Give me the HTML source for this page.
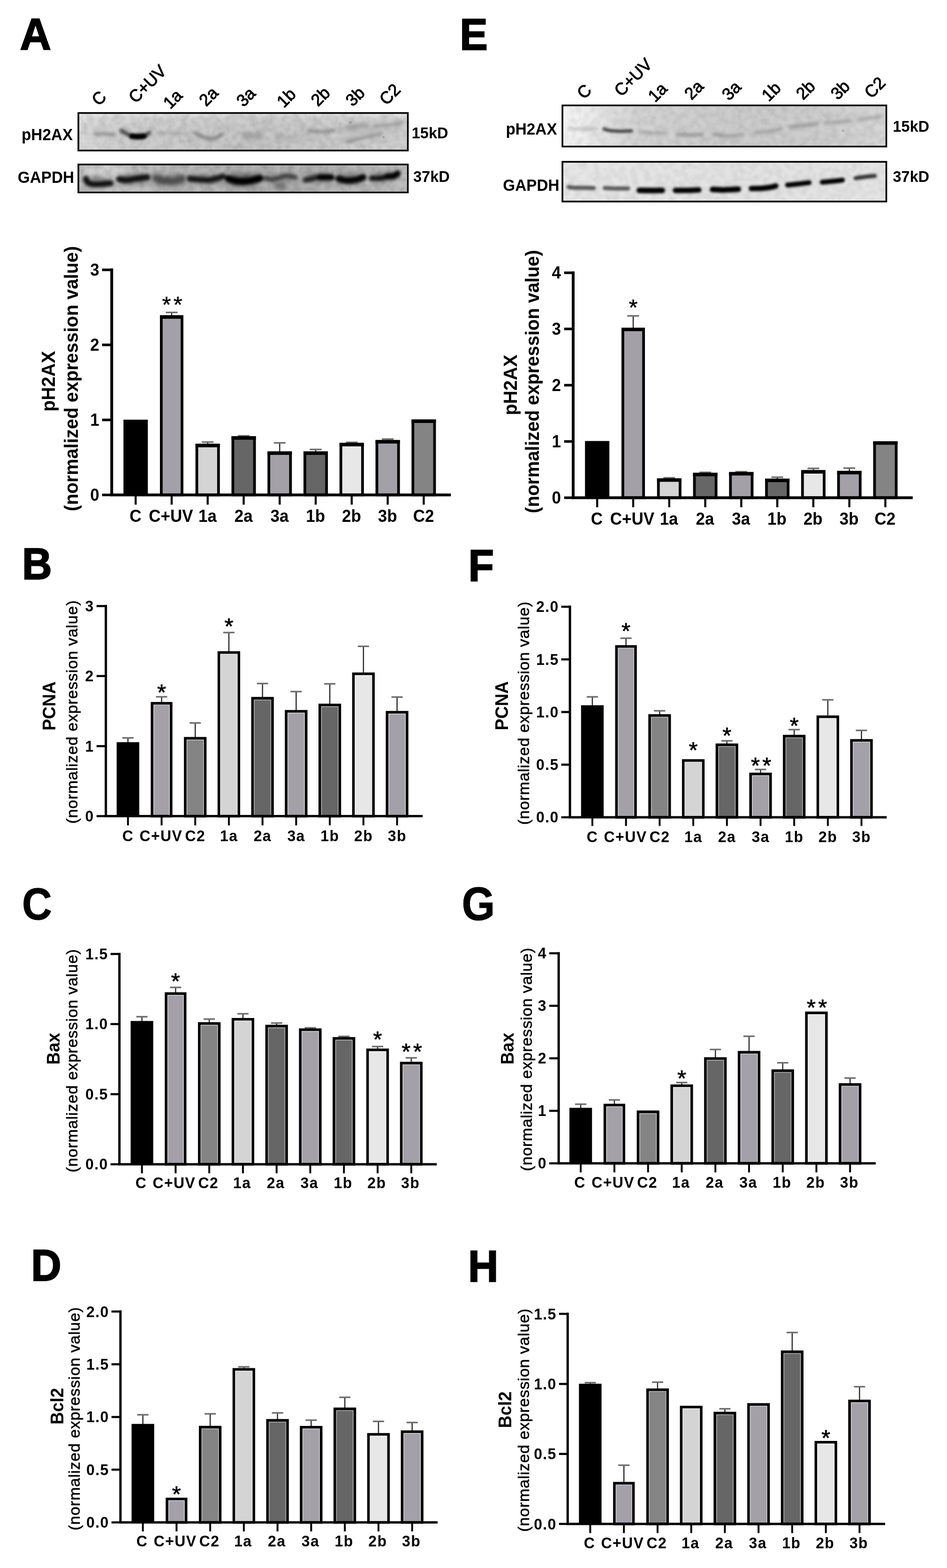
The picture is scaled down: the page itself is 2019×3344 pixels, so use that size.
<!DOCTYPE html>
<html lang="en"><head><meta charset="utf-8"><title>Figure: pH2AX, PCNA, Bax and Bcl2 expression</title>
<style>html,body{margin:0;padding:0;background:#fff}body{width:2019px;height:3344px;overflow:hidden}svg{display:block;filter:blur(0.5px)}text{font-family:'Liberation Sans', sans-serif;font-weight:bold;text-anchor:middle;fill:#000}.n{font-weight:normal}.e{text-anchor:end}.s{text-anchor:start}</style>
</head><body>
<svg width="2019" height="3344" viewBox="0 0 2019 3344" role="img" aria-label="Western blots and bar charts of pH2AX, PCNA, Bax and Bcl2 expression">
<rect width="2019" height="3344" fill="#fff"/>
<defs>
<filter id="bl1_2" filterUnits="userSpaceOnUse" x="100" y="200" width="1850" height="260" color-interpolation-filters="sRGB"><feGaussianBlur stdDeviation="1.2"/></filter>
<filter id="bl1_8" filterUnits="userSpaceOnUse" x="100" y="200" width="1850" height="260" color-interpolation-filters="sRGB"><feGaussianBlur stdDeviation="1.8"/></filter>
<filter id="bl2" filterUnits="userSpaceOnUse" x="100" y="200" width="1850" height="260" color-interpolation-filters="sRGB"><feGaussianBlur stdDeviation="2"/></filter>
<filter id="bl2_5" filterUnits="userSpaceOnUse" x="100" y="200" width="1850" height="260" color-interpolation-filters="sRGB"><feGaussianBlur stdDeviation="2.5"/></filter>
<filter id="bl3" filterUnits="userSpaceOnUse" x="100" y="200" width="1850" height="260" color-interpolation-filters="sRGB"><feGaussianBlur stdDeviation="3"/></filter>
<filter id="bl4" filterUnits="userSpaceOnUse" x="100" y="200" width="1850" height="260" color-interpolation-filters="sRGB"><feGaussianBlur stdDeviation="4"/></filter>
<filter id="bl5" filterUnits="userSpaceOnUse" x="100" y="200" width="1850" height="260" color-interpolation-filters="sRGB"><feGaussianBlur stdDeviation="5"/></filter>
<filter id="bl8" filterUnits="userSpaceOnUse" x="100" y="200" width="1850" height="260" color-interpolation-filters="sRGB"><feGaussianBlur stdDeviation="8"/></filter>
<filter id="bl14" filterUnits="userSpaceOnUse" x="100" y="200" width="1850" height="260" color-interpolation-filters="sRGB"><feGaussianBlur stdDeviation="14"/></filter>
<linearGradient id="gA1" x1="0" x2="1" y1="0" y2="0"><stop offset="0" stop-color="#dadada"/><stop offset="0.06" stop-color="#d0d0d0"/><stop offset="0.3" stop-color="#cacaca"/><stop offset="0.55" stop-color="#c4c4c4"/><stop offset="0.8" stop-color="#c9c9c9"/><stop offset="1" stop-color="#d0d0d0"/></linearGradient>
<linearGradient id="gA2" x1="0" x2="1" y1="0" y2="0"><stop offset="0" stop-color="#b9b9b9"/><stop offset="0.1" stop-color="#c0c0c0"/><stop offset="0.3" stop-color="#b4b4b4"/><stop offset="0.6" stop-color="#adadad"/><stop offset="0.85" stop-color="#b2b2b2"/><stop offset="1" stop-color="#bcbcbc"/></linearGradient>
<linearGradient id="gE1" x1="0" x2="1" y1="0" y2="0"><stop offset="0" stop-color="#f6f6f6"/><stop offset="0.06" stop-color="#eeeeee"/><stop offset="0.14" stop-color="#e0e0e0"/><stop offset="0.23" stop-color="#d2d2d2"/><stop offset="0.5" stop-color="#cbcbcb"/><stop offset="0.8" stop-color="#cccccc"/><stop offset="1" stop-color="#d5d5d5"/></linearGradient>
<linearGradient id="gE2" x1="0" x2="1" y1="0" y2="0"><stop offset="0" stop-color="#e6e6e6"/><stop offset="0.5" stop-color="#e2e2e2"/><stop offset="1" stop-color="#e4e4e4"/></linearGradient>
<linearGradient id="gTop" x1="0" x2="0" y1="0" y2="1"><stop offset="0" stop-color="#fff" stop-opacity="0.45"/><stop offset="0.12" stop-color="#fff" stop-opacity="0.12"/><stop offset="0.4" stop-color="#fff" stop-opacity="0"/><stop offset="1" stop-color="#fff" stop-opacity="0"/></linearGradient>
<filter id="nz" filterUnits="userSpaceOnUse" x="100" y="200" width="1850" height="260" color-interpolation-filters="sRGB"><feTurbulence type="fractalNoise" baseFrequency="0.075" numOctaves="2" seed="11"/><feColorMatrix type="matrix" values="0 0 0 0 0  0 0 0 0 0  0 0 0 0 0  0 0 0 2.2 -0.75"/><feGaussianBlur stdDeviation="1.2"/></filter>
<filter id="nw" filterUnits="userSpaceOnUse" x="100" y="200" width="1850" height="260" color-interpolation-filters="sRGB"><feTurbulence type="fractalNoise" baseFrequency="0.06" numOctaves="2" seed="29"/><feColorMatrix type="matrix" values="0 0 0 0 1  0 0 0 0 1  0 0 0 0 1  0 0 0 2.2 -0.75"/><feGaussianBlur stdDeviation="1.2"/></filter>
</defs>
<clipPath id="cpA1"><rect x="168.9" y="242.8" width="698.8" height="76.4"/></clipPath>
<g clip-path="url(#cpA1)">
<rect x="168.9" y="242.8" width="698.8" height="76.4" fill="url(#gA1)"/>
<rect x="168.9" y="242.8" width="698.8" height="76.4" fill="url(#gTop)"/>
<rect x="168.9" y="242.8" width="698.8" height="76.4" filter="url(#nz)" opacity="0.1"/>
<rect x="168.9" y="242.8" width="698.8" height="76.4" filter="url(#nw)" opacity="0.1"/>
<g fill="none" stroke-linecap="round" stroke-linejoin="round" filter="url(#bl3)">
<path d="M204 286C207.33 285.92 217.5 285.33 224 285.5C230.5 285.67 239.83 286.75 243 287" stroke="#868686" stroke-width="7" opacity="0.75"/>
<path d="M259 279C260.5 279.83 264.5 282.17 268 284C271.5 285.83 275.67 288.67 280 290C284.33 291.33 289.33 292 294 292C298.67 292 304 291.5 308 290C312 288.5 316.33 284.17 318 283" stroke="#1c1c1c" stroke-width="8" opacity="0.8"/>
<path d="M338 283C342.5 283.17 355 283.33 365 284C375 284.67 392.5 286.5 398 287" stroke="#989898" stroke-width="6" opacity="0.6"/>
<path d="M415 283C417.17 284.17 423 288 428 290C433 292 439.67 294.33 445 295C450.33 295.67 455.17 295.5 460 294C464.83 292.5 471.67 287.33 474 286" stroke="#767676" stroke-width="7" opacity="0.8"/>
<path d="M658 279C662.5 279.33 675.83 281.17 685 281C694.17 280.83 708.33 278.5 713 278" stroke="#848484" stroke-width="7" opacity="0.8"/>
<path d="M742 302C745.83 301 757 298 765 296C773 294 782.17 291.83 790 290C797.83 288.17 808.33 285.83 812 285" stroke="#848484" stroke-width="7" opacity="0.8"/>
<path d="M797 270C801.67 269.5 817 267.83 825 267C833 266.17 839.67 265.83 845 265C850.33 264.17 855 262.5 857 262" stroke="#828282" stroke-width="6" opacity="0.8"/>
</g>
<g fill="none" stroke-linecap="round" stroke-linejoin="round" filter="url(#bl2_5)">
<path d="M281 290.3C283.17 290.45 289.67 291.2 294 291.2C298.33 291.2 304.83 290.45 307 290.3" stroke="#000" stroke-width="11" opacity="1"/>
</g>
<g fill="none" stroke-linecap="round" stroke-linejoin="round" filter="url(#bl5)">
<path d="M522 290C525 290.17 534.33 291.17 540 291C545.67 290.83 553.33 289.33 556 289" stroke="#969696" stroke-width="14" opacity="0.7"/>
</g>
<g fill="none" stroke-linecap="round" stroke-linejoin="round" filter="url(#bl4)">
<path d="M590 292C593.67 292.5 605.33 294.83 612 295C618.67 295.17 627 293.33 630 293" stroke="#a0a0a0" stroke-width="8" opacity="0.6"/>
<path d="M740 273C743.33 272.5 753 270.83 760 270C767 269.17 778.33 268.33 782 268" stroke="#808080" stroke-width="8" opacity="0.8"/>
</g>
<g fill="none" stroke-linecap="round" stroke-linejoin="round" filter="url(#bl8)">
<path d="M745 285C752.5 283.83 774.17 280.17 790 278C805.83 275.83 831.67 273 840 272" stroke="#b4b4b4" stroke-width="26" opacity="0.5"/>
</g>
<g fill="none" stroke-linecap="round" stroke-linejoin="round" filter="url(#bl1_2)">
<path d="M746.5 261.5L748 261.8" stroke="#555" stroke-width="2.5" opacity="0.8"/>
<path d="M817.6 292.5L818.2 292.6" stroke="#333" stroke-width="2.2" opacity="0.9"/>
</g>
</g>
<rect x="167.1" y="241" width="702.4" height="80" fill="none" stroke="#000" stroke-width="3.6"/>
<clipPath id="cpA2"><rect x="168.9" y="352.6" width="698.8" height="56"/></clipPath>
<g clip-path="url(#cpA2)">
<rect x="168.9" y="352.6" width="698.8" height="56" fill="url(#gA2)"/>
<ellipse cx="225" cy="362" rx="50" ry="10" fill="#dcdcdc" opacity="0.8" filter="url(#bl8)"/>
<ellipse cx="600" cy="400" rx="40" ry="8" fill="#a0a0a0" opacity="0.5" filter="url(#bl8)"/>
<ellipse cx="520" cy="384" rx="36" ry="16" fill="#808080" opacity="0.7" filter="url(#bl8)"/>
<ellipse cx="360" cy="384" rx="34" ry="16" fill="#8a8a8a" opacity="0.6" filter="url(#bl8)"/>
<ellipse cx="700" cy="358" rx="40" ry="6" fill="#9c9c9c" opacity="0.6" filter="url(#bl8)"/>
<ellipse cx="243" cy="385" rx="4" ry="30" fill="#c8c8c8" opacity="0.6" filter="url(#bl5)"/>
<ellipse cx="714" cy="385" rx="4" ry="30" fill="#c4c4c4" opacity="0.5" filter="url(#bl5)"/>
<ellipse cx="782" cy="385" rx="4" ry="30" fill="#c6c6c6" opacity="0.5" filter="url(#bl5)"/>
<ellipse cx="858" cy="385" rx="6" ry="30" fill="#c2c2c2" opacity="0.6" filter="url(#bl5)"/>
<ellipse cx="210" cy="389" rx="30" ry="12" fill="#6a6a6a" opacity="0.55" filter="url(#bl5)"/>
<ellipse cx="285" cy="382" rx="32" ry="12" fill="#6a6a6a" opacity="0.55" filter="url(#bl5)"/>
<ellipse cx="440" cy="382" rx="38" ry="12" fill="#6a6a6a" opacity="0.55" filter="url(#bl5)"/>
<ellipse cx="520" cy="384" rx="36" ry="13" fill="#555" opacity="0.6" filter="url(#bl5)"/>
<ellipse cx="598" cy="380" rx="34" ry="12" fill="#777" opacity="0.5" filter="url(#bl5)"/>
<ellipse cx="680" cy="380" rx="30" ry="12" fill="#6a6a6a" opacity="0.55" filter="url(#bl5)"/>
<ellipse cx="748" cy="382" rx="28" ry="12" fill="#606060" opacity="0.55" filter="url(#bl5)"/>
<ellipse cx="820" cy="377" rx="30" ry="12" fill="#6a6a6a" opacity="0.55" filter="url(#bl5)"/>
<rect x="168.9" y="352.6" width="698.8" height="56" filter="url(#nz)" opacity="0.12"/>
<rect x="168.9" y="352.6" width="698.8" height="56" filter="url(#nw)" opacity="0.12"/>
<g fill="none" stroke-linecap="round" stroke-linejoin="round" filter="url(#bl3)">
<path d="M183 381C183.67 382.33 184.17 387 187 389C189.83 391 194.5 392.5 200 393C205.5 393.5 214 392.33 220 392C226 391.67 233.33 391.17 236 391" stroke="#0a0a0a" stroke-width="12" opacity="0.95"/>
<path d="M254 382C256.67 382.33 264 384.17 270 384C276 383.83 282.67 382 290 381C297.33 380 310 378.5 314 378" stroke="#0a0a0a" stroke-width="13" opacity="0.95"/>
<path d="M404 381C407.5 381.33 418.17 382.5 425 383C431.83 383.5 438.67 384.5 445 384C451.33 383.5 457.83 381.33 463 380C468.17 378.67 473.83 376.67 476 376" stroke="#0e0e0e" stroke-width="12" opacity="0.95"/>
<path d="M487 381C490 381.83 497.83 385.17 505 386C512.17 386.83 521.83 387 530 386C538.17 385 550 381 554 380" stroke="#000" stroke-width="15" opacity="1"/>
<path d="M566 380C568.33 380.5 575.67 383 580 383C584.33 383 587 381.33 592 380C597 378.67 603.67 375.33 610 375C616.33 374.67 626.67 377.5 630 378" stroke="#303030" stroke-width="10" opacity="0.8"/>
<path d="M651 384C653.33 383.5 660.17 382 665 381C669.83 380 674.17 378.5 680 378C685.83 377.5 695.33 377.83 700 378C704.67 378.17 706.67 378.83 708 379" stroke="#181818" stroke-width="11" opacity="0.9"/>
<path d="M682 378L706 378" stroke="#000" stroke-width="13" opacity="1"/>
<path d="M722 381C725 381.67 733.67 384.67 740 385C746.33 385.33 754.33 384.17 760 383C765.67 381.83 771.67 378.83 774 378" stroke="#040404" stroke-width="14" opacity="1"/>
<path d="M792 380C795 380 804.5 380.5 810 380C815.5 379.5 820 377.83 825 377C830 376.17 836.17 376.33 840 375C843.83 373.67 846.67 370 848 369" stroke="#0a0a0a" stroke-width="11" opacity="0.95"/>
<path d="M826 376C828.33 375.83 836.33 376 840 375C843.67 374 846.67 370.83 848 370" stroke="#000" stroke-width="13" opacity="1"/>
</g>
<g fill="none" stroke-linecap="round" stroke-linejoin="round" filter="url(#bl4)">
<path d="M332 380C335 380.83 343.67 384 350 385C356.33 386 363.67 386.67 370 386C376.33 385.33 385 381.83 388 381" stroke="#383838" stroke-width="17" opacity="0.8"/>
<path d="M592 396L602 398" stroke="#555" stroke-width="14" opacity="0.6"/>
</g>
</g>
<rect x="167.1" y="350.8" width="702.4" height="59.6" fill="none" stroke="#000" stroke-width="3.6"/>
<clipPath id="cpE1"><rect x="1200.9" y="226.6" width="686.9" height="84.1"/></clipPath>
<g clip-path="url(#cpE1)">
<rect x="1200.9" y="226.6" width="686.9" height="84.1" fill="url(#gE1)"/>
<rect x="1200.9" y="226.6" width="686.9" height="84.1" filter="url(#nz)" opacity="0.07"/>
<rect x="1200.9" y="226.6" width="686.9" height="84.1" filter="url(#nw)" opacity="0.07"/>
<g fill="none" stroke-linecap="round" stroke-linejoin="round" filter="url(#bl3)">
<path d="M1214 274C1219.17 274.25 1235.33 275.42 1245 275.5C1254.67 275.58 1267.5 274.67 1272 274.5" stroke="#a0a0a0" stroke-width="6" opacity="0.6"/>
<path d="M1364 281C1368.33 281.33 1381.17 282.5 1390 283C1398.83 283.5 1412.5 283.83 1417 284" stroke="#8c8c8c" stroke-width="6" opacity="0.62"/>
<path d="M1444 286C1448.33 286.33 1461.17 287.83 1470 288C1478.83 288.17 1492.5 287.17 1497 287" stroke="#7c7c7c" stroke-width="7" opacity="0.62"/>
<path d="M1521 286C1525.83 286.67 1539.67 289.83 1550 290C1560.33 290.17 1577.5 287.5 1583 287" stroke="#848484" stroke-width="7" opacity="0.62"/>
<path d="M1610 283C1615 282.5 1630.67 281.5 1640 280C1649.33 278.5 1661.67 275 1666 274" stroke="#848484" stroke-width="6" opacity="0.62"/>
<path d="M1685 270C1690 269.58 1705.67 268.5 1715 267.5C1724.33 266.5 1736.67 264.58 1741 264" stroke="#7c7c7c" stroke-width="6.5" opacity="0.62"/>
<path d="M1758 262C1763.33 261.67 1780.83 260.67 1790 260C1799.17 259.33 1809.17 258.33 1813 258" stroke="#848484" stroke-width="6" opacity="0.62"/>
<path d="M1830 255C1834.17 254.5 1847.33 253 1855 252C1862.67 251 1872.5 249.5 1876 249" stroke="#8c8c8c" stroke-width="6.5" opacity="0.6"/>
</g>
<g fill="none" stroke-linecap="round" stroke-linejoin="round" filter="url(#bl2_5)">
<path d="M1288 275C1290 275.58 1293.83 277.67 1300 278.5C1306.17 279.33 1317.33 279.92 1325 280C1332.67 280.08 1342.5 279.17 1346 279" stroke="#2c2c2c" stroke-width="7" opacity="0.85"/>
</g>
<g fill="none" stroke-linecap="round" stroke-linejoin="round" filter="url(#bl1_2)">
<path d="M1796.6 278.6L1797.3 278.7" stroke="#444" stroke-width="2.2" opacity="0.9"/>
</g>
</g>
<rect x="1199.1" y="224.8" width="690.5" height="87.7" fill="none" stroke="#000" stroke-width="3.6"/>
<clipPath id="cpE2"><rect x="1200.9" y="346.9" width="686.9" height="81.1"/></clipPath>
<g clip-path="url(#cpE2)">
<rect x="1200.9" y="346.9" width="686.9" height="81.1" fill="url(#gE2)"/>
<rect x="1200.9" y="346.9" width="686.9" height="81.1" filter="url(#nz)" opacity="0.06"/>
<rect x="1200.9" y="346.9" width="686.9" height="81.1" filter="url(#nw)" opacity="0.06"/>
<g fill="none" stroke-linecap="round" stroke-linejoin="round" filter="url(#bl2_5)">
<path d="M1212 399C1214.17 399.25 1219.5 400.25 1225 400.5C1230.5 400.75 1238.17 400.42 1245 400.5C1251.83 400.58 1262.5 400.92 1266 401" stroke="#3c3c3c" stroke-width="8.5" opacity="0.85"/>
<path d="M1289 401C1292.5 401.17 1301.67 401.83 1310 402C1318.33 402.17 1334.17 402 1339 402" stroke="#404040" stroke-width="8.5" opacity="0.85"/>
<path d="M1363 406C1367.17 406.05 1379.83 406.3 1388 406.3C1396.17 406.3 1408 406.05 1412 406" stroke="#000" stroke-width="12" opacity="1"/>
<path d="M1440 406C1444.17 406 1456.67 406.17 1465 406C1473.33 405.83 1485.83 405.17 1490 405" stroke="#000" stroke-width="11.5" opacity="1"/>
<path d="M1519 404C1523.33 404.17 1535.83 405.08 1545 405C1554.17 404.92 1569.17 403.75 1574 403.5" stroke="#000" stroke-width="12" opacity="1"/>
<path d="M1602 402C1605.83 401.92 1617.83 402 1625 401.5C1632.17 401 1640.17 399.83 1645 399C1649.83 398.17 1652.5 396.92 1654 396.5" stroke="#000" stroke-width="11.5" opacity="1"/>
<path d="M1679 394.5C1682.5 394.17 1692.33 393.33 1700 392.5C1707.67 391.67 1720.83 390 1725 389.5" stroke="#000" stroke-width="10.5" opacity="1"/>
<path d="M1753 388.5C1756.67 388.17 1767.83 387.25 1775 386.5C1782.17 385.75 1792.5 384.42 1796 384" stroke="#000" stroke-width="10.5" opacity="1"/>
<path d="M1824 380C1827.5 379.5 1838.17 377.83 1845 377C1851.83 376.17 1861.67 375.33 1865 375" stroke="#1e1e1e" stroke-width="8.5" opacity="0.9"/>
</g>
</g>
<rect x="1199.1" y="345.1" width="690.5" height="84.7" fill="none" stroke="#000" stroke-width="3.6"/>
<text class="e" transform="translate(155.2 298.6) scale(1 1.04)" font-size="33.3">pH2AX</text>
<text class="e" transform="translate(158 390.4) scale(1 1.04)" font-size="33.3">GAPDH</text>
<text class="s" transform="translate(877.8 294.5) scale(1 1.04)" font-size="32.5">15kD</text>
<text class="s" transform="translate(881 388) scale(1 1.04)" font-size="32.5">37kD</text>
<text class="e" transform="translate(1187.6 287.2) scale(1 1.04)" font-size="33.3">pH2AX</text>
<text class="e" transform="translate(1192.6 407.2) scale(1 1.04)" font-size="33.3">GAPDH</text>
<text class="s" transform="translate(1903.5 280.5) scale(1 1.04)" font-size="32.5">15kD</text>
<text class="s" transform="translate(1903.5 388) scale(1 1.04)" font-size="32.5">37kD</text>
<text class="n" transform="translate(211 209.2) rotate(-45) scale(1 1.03)" y="12.25" font-size="35.5" stroke="#000" stroke-width="1.1">C</text>
<text class="n" transform="translate(314.1 179) rotate(-45) scale(1 1.03)" y="12.25" font-size="35.5" stroke="#000" stroke-width="1.1">C+UV</text>
<text class="n" transform="translate(368 211.2) rotate(-45) scale(1 1.03)" y="12.25" font-size="35.5" stroke="#000" stroke-width="1.1">1a</text>
<text class="n" transform="translate(444.6 205.7) rotate(-45) scale(1 1.03)" y="12.25" font-size="35.5" stroke="#000" stroke-width="1.1">2a</text>
<text class="n" transform="translate(524.2 206.7) rotate(-45) scale(1 1.03)" y="12.25" font-size="35.5" stroke="#000" stroke-width="1.1">3a</text>
<text class="n" transform="translate(610.2 208.3) rotate(-45) scale(1 1.03)" y="12.25" font-size="35.5" stroke="#000" stroke-width="1.1">1b</text>
<text class="n" transform="translate(683.1 205.6) rotate(-45) scale(1 1.03)" y="12.25" font-size="35.5" stroke="#000" stroke-width="1.1">2b</text>
<text class="n" transform="translate(757.1 205.6) rotate(-45) scale(1 1.03)" y="12.25" font-size="35.5" stroke="#000" stroke-width="1.1">3b</text>
<text class="n" transform="translate(831 201) rotate(-45) scale(1 1.03)" y="12.25" font-size="35.5" stroke="#000" stroke-width="1.1">C2</text>
<text class="n" transform="translate(1245.5 195) rotate(-45) scale(1 1.03)" y="12.25" font-size="35.5" stroke="#000" stroke-width="1.1">C</text>
<text class="n" transform="translate(1349.7 164.7) rotate(-45) scale(1 1.03)" y="12.25" font-size="35.5" stroke="#000" stroke-width="1.1">C+UV</text>
<text class="n" transform="translate(1401.8 196.6) rotate(-45) scale(1 1.03)" y="12.25" font-size="35.5" stroke="#000" stroke-width="1.1">1a</text>
<text class="n" transform="translate(1479.4 191.7) rotate(-45) scale(1 1.03)" y="12.25" font-size="35.5" stroke="#000" stroke-width="1.1">2a</text>
<text class="n" transform="translate(1559.3 193.2) rotate(-45) scale(1 1.03)" y="12.25" font-size="35.5" stroke="#000" stroke-width="1.1">3a</text>
<text class="n" transform="translate(1644 195) rotate(-45) scale(1 1.03)" y="12.25" font-size="35.5" stroke="#000" stroke-width="1.1">1b</text>
<text class="n" transform="translate(1717.3 191.5) rotate(-45) scale(1 1.03)" y="12.25" font-size="35.5" stroke="#000" stroke-width="1.1">2b</text>
<text class="n" transform="translate(1791.2 191.5) rotate(-45) scale(1 1.03)" y="12.25" font-size="35.5" stroke="#000" stroke-width="1.1">3b</text>
<text class="n" transform="translate(1865.1 186.5) rotate(-45) scale(1 1.03)" y="12.25" font-size="35.5" stroke="#000" stroke-width="1.1">C2</text>
<text class="s" transform="translate(42.4 105.6) scale(1 1.03)" font-size="92" stroke="#000" stroke-width="2.2" stroke-linejoin="miter">A</text>
<text class="s" transform="translate(47.03 1235.4) scale(0.96 1.03)" font-size="92" stroke="#000" stroke-width="2.2" stroke-linejoin="miter">B</text>
<text class="s" transform="translate(47.03 1960.5) scale(0.96 1.05)" font-size="92" stroke="#000" stroke-width="1" stroke-linejoin="miter">C</text>
<text class="s" transform="translate(66.17 2730.5) scale(0.97 1.03)" font-size="92" stroke="#000" stroke-width="2.2" stroke-linejoin="miter">D</text>
<text class="s" transform="translate(980.27 106) scale(0.97 1.03)" font-size="92" stroke="#000" stroke-width="2.2" stroke-linejoin="miter">E</text>
<text class="s" transform="translate(998.57 1238.7) scale(0.97 1.03)" font-size="92" stroke="#000" stroke-width="2.2" stroke-linejoin="miter">F</text>
<text class="s" transform="translate(984.41 1962.3) scale(0.99 1.08)" font-size="92" stroke="#000" stroke-width="1" stroke-linejoin="miter">G</text>
<text class="s" transform="translate(998.07 2732.8) scale(0.97 1.03)" font-size="92" stroke="#000" stroke-width="2.2" stroke-linejoin="miter">H</text>
<g>
<rect x="263.2" y="895" width="52" height="160.5" fill="#000"/>
<path d="M365.97 674.4V666.3" stroke="#2a2a2a" stroke-width="2.5" fill="none"/><path d="M353.47 666.3H378.47" stroke="#6c6c6c" stroke-width="3.3" fill="none"/>
<rect x="343.87" y="675.3" width="44.2" height="380.2" fill="#a3a1a7" stroke="#000" stroke-width="5.8"/>
<rect x="340.97" y="672.4" width="50" height="7.4" fill="#000"/>
<text class="n" transform="translate(369.77 666.46)" font-size="49" letter-spacing="5.2" stroke="#000" stroke-width="0.5" stroke-linejoin="round">**</text>
<path d="M442.74 948.5V942.8" stroke="#2a2a2a" stroke-width="2.5" fill="none"/><path d="M430.24 942.8H455.24" stroke="#6c6c6c" stroke-width="3.3" fill="none"/>
<rect x="419.64" y="949.4" width="46.2" height="106.1" fill="#d4d4d4" stroke="#000" stroke-width="5.8"/>
<rect x="416.74" y="946.5" width="52" height="7.4" fill="#000"/>
<path d="M519.51 932.4V929.5" stroke="#2a2a2a" stroke-width="2.5" fill="none"/><path d="M507.01 929.5H532.01" stroke="#6c6c6c" stroke-width="3.3" fill="none"/>
<rect x="496.41" y="933.3" width="46.2" height="122.2" fill="#666666" stroke="#000" stroke-width="5.8"/>
<rect x="493.51" y="930.4" width="52" height="7.4" fill="#000"/>
<path d="M596.28 964.7V944.5" stroke="#2a2a2a" stroke-width="2.5" fill="none"/><path d="M583.78 944.5H608.78" stroke="#6c6c6c" stroke-width="3.3" fill="none"/>
<rect x="573.18" y="965.6" width="46.2" height="89.9" fill="#a3a1a7" stroke="#000" stroke-width="5.8"/>
<rect x="570.28" y="962.7" width="52" height="7.4" fill="#000"/>
<path d="M673.05 964.7V958.5" stroke="#2a2a2a" stroke-width="2.5" fill="none"/><path d="M660.55 958.5H685.55" stroke="#6c6c6c" stroke-width="3.3" fill="none"/>
<rect x="649.95" y="965.6" width="46.2" height="89.9" fill="#666666" stroke="#000" stroke-width="5.8"/>
<rect x="647.05" y="962.7" width="52" height="7.4" fill="#000"/>
<path d="M749.82 946.5V943.3" stroke="#2a2a2a" stroke-width="2.5" fill="none"/><path d="M737.32 943.3H762.32" stroke="#6c6c6c" stroke-width="3.3" fill="none"/>
<rect x="726.72" y="947.4" width="46.2" height="108.1" fill="#e7e7e7" stroke="#000" stroke-width="5.8"/>
<rect x="723.82" y="944.5" width="52" height="7.4" fill="#000"/>
<path d="M826.59 940.5V936.4" stroke="#2a2a2a" stroke-width="2.5" fill="none"/><path d="M814.09 936.4H839.09" stroke="#6c6c6c" stroke-width="3.3" fill="none"/>
<rect x="803.49" y="941.4" width="46.2" height="114.1" fill="#a3a1a7" stroke="#000" stroke-width="5.8"/>
<rect x="800.59" y="938.5" width="52" height="7.4" fill="#000"/>
<rect x="880.26" y="897.5" width="46.2" height="158" fill="#848484" stroke="#000" stroke-width="5.8"/>
<rect x="877.36" y="894.6" width="52" height="7.4" fill="#000"/>
<path d="M238.2 572.5V1055.5H961.3" stroke="#000" stroke-width="6" fill="none" stroke-linejoin="miter"/>
<path d="M217.6 575.5H238.2M217.6 735.5H238.2M217.6 895.5H238.2M217.6 1055.5H238.2" stroke="#000" stroke-width="5.5" fill="none"/>
<path d="M289.2 1055.5V1076.3M365.97 1055.5V1076.3M442.74 1055.5V1076.3M519.51 1055.5V1076.3M596.28 1055.5V1076.3M673.05 1055.5V1076.3M749.82 1055.5V1076.3M826.59 1055.5V1076.3M903.36 1055.5V1076.3" stroke="#000" stroke-width="4.4" fill="none"/>
<text class="e" transform="translate(211.6 588.06) scale(1 1.04)" font-size="35" letter-spacing="0">3</text>
<text class="e" transform="translate(211.6 748.06) scale(1 1.04)" font-size="35" letter-spacing="0">2</text>
<text class="e" transform="translate(211.6 908.06) scale(1 1.04)" font-size="35" letter-spacing="0">1</text>
<text class="e" transform="translate(211.6 1068.06) scale(1 1.04)" font-size="35" letter-spacing="0">0</text>
<text transform="translate(288.9 1113.2) scale(1 1.04)" font-size="35" letter-spacing="0">C</text>
<text transform="translate(364.37 1113.2) scale(1 1.04)" font-size="35" letter-spacing="0">C+UV</text>
<text transform="translate(442.44 1113.2) scale(1 1.04)" font-size="35" letter-spacing="0">1a</text>
<text transform="translate(519.21 1113.2) scale(1 1.04)" font-size="35" letter-spacing="0">2a</text>
<text transform="translate(595.98 1113.2) scale(1 1.04)" font-size="35" letter-spacing="0">3a</text>
<text transform="translate(672.75 1113.2) scale(1 1.04)" font-size="35" letter-spacing="0">1b</text>
<text transform="translate(749.52 1113.2) scale(1 1.04)" font-size="35" letter-spacing="0">2b</text>
<text transform="translate(826.29 1113.2) scale(1 1.04)" font-size="35" letter-spacing="0">3b</text>
<text transform="translate(903.06 1113.2) scale(1 1.04)" font-size="35" letter-spacing="0">C2</text>
<text transform="translate(116.9 813.1) rotate(-90) scale(1 1.04)" font-size="39.5">pH2AX</text>
<text transform="translate(165.5 807.5) rotate(-90) scale(1 1.04)" font-size="39.5" textLength="565.5" lengthAdjust="spacing">(normalized expression value)</text>
</g>
<g>
<path d="M272.8 1584.8V1573.7" stroke="#2a2a2a" stroke-width="2.5" fill="none"/><path d="M260.8 1573.7H284.8" stroke="#6c6c6c" stroke-width="3.3" fill="none"/>
<rect x="248.7" y="1582.8" width="48.2" height="157.8" fill="#000"/>
<path d="M344.52 1499.1V1486" stroke="#2a2a2a" stroke-width="2.5" fill="none"/><path d="M332.52 1486H356.52" stroke="#6c6c6c" stroke-width="3.3" fill="none"/>
<rect x="324.22" y="1499.9" width="40.6" height="240.7" fill="#a3a1a7" stroke="#000" stroke-width="5.6"/>
<path d="M327.82 1738.1V1503.5H361.22V1738.1" fill="none" stroke="#fff" stroke-opacity="0.5" stroke-width="1.6"/>
<text class="n" transform="translate(344.52 1493.46)" font-size="49" stroke="#000" stroke-width="0.8" stroke-linejoin="round">*</text>
<path d="M416.24 1573.7V1541.8" stroke="#2a2a2a" stroke-width="2.5" fill="none"/><path d="M404.24 1541.8H428.24" stroke="#6c6c6c" stroke-width="3.3" fill="none"/>
<rect x="394.94" y="1574.5" width="42.6" height="166.1" fill="#848484" stroke="#000" stroke-width="5.6"/>
<path d="M398.54 1738.1V1578.1H433.94V1738.1" fill="none" stroke="#fff" stroke-opacity="0.5" stroke-width="1.6"/>
<path d="M487.96 1390.8V1349" stroke="#2a2a2a" stroke-width="2.5" fill="none"/><path d="M475.96 1349H499.96" stroke="#6c6c6c" stroke-width="3.3" fill="none"/>
<rect x="466.66" y="1391.6" width="42.6" height="349" fill="#d4d4d4" stroke="#000" stroke-width="5.6"/>
<path d="M470.26 1738.1V1395.2H505.66V1738.1" fill="none" stroke="#fff" stroke-opacity="0.5" stroke-width="1.6"/>
<text class="n" transform="translate(487.96 1351.96)" font-size="49" stroke="#000" stroke-width="0.8" stroke-linejoin="round">*</text>
<path d="M559.68 1488.3V1457.7" stroke="#2a2a2a" stroke-width="2.5" fill="none"/><path d="M547.68 1457.7H571.68" stroke="#6c6c6c" stroke-width="3.3" fill="none"/>
<rect x="538.38" y="1489.1" width="42.6" height="251.5" fill="#666666" stroke="#000" stroke-width="5.6"/>
<path d="M541.98 1738.1V1492.7H577.38V1738.1" fill="none" stroke="#fff" stroke-opacity="0.5" stroke-width="1.6"/>
<path d="M631.4 1516.2V1474.9" stroke="#2a2a2a" stroke-width="2.5" fill="none"/><path d="M619.4 1474.9H643.4" stroke="#6c6c6c" stroke-width="3.3" fill="none"/>
<rect x="610.1" y="1517" width="42.6" height="223.6" fill="#a3a1a7" stroke="#000" stroke-width="5.6"/>
<path d="M613.7 1738.1V1520.6H649.1V1738.1" fill="none" stroke="#fff" stroke-opacity="0.5" stroke-width="1.6"/>
<path d="M703.12 1502.7V1458.4" stroke="#2a2a2a" stroke-width="2.5" fill="none"/><path d="M691.12 1458.4H715.12" stroke="#6c6c6c" stroke-width="3.3" fill="none"/>
<rect x="681.82" y="1503.5" width="42.6" height="237.1" fill="#666666" stroke="#000" stroke-width="5.6"/>
<path d="M685.42 1738.1V1507.1H720.82V1738.1" fill="none" stroke="#fff" stroke-opacity="0.5" stroke-width="1.6"/>
<path d="M774.84 1436.2V1378.4" stroke="#2a2a2a" stroke-width="2.5" fill="none"/><path d="M762.84 1378.4H786.84" stroke="#6c6c6c" stroke-width="3.3" fill="none"/>
<rect x="753.54" y="1437" width="42.6" height="303.6" fill="#e7e7e7" stroke="#000" stroke-width="5.6"/>
<path d="M757.14 1738.1V1440.6H792.54V1738.1" fill="none" stroke="#fff" stroke-opacity="0.5" stroke-width="1.6"/>
<path d="M846.56 1518.2V1486.6" stroke="#2a2a2a" stroke-width="2.5" fill="none"/><path d="M834.56 1486.6H858.56" stroke="#6c6c6c" stroke-width="3.3" fill="none"/>
<rect x="825.26" y="1519" width="42.6" height="221.6" fill="#a3a1a7" stroke="#000" stroke-width="5.6"/>
<path d="M828.86 1738.1V1522.6H864.26V1738.1" fill="none" stroke="#fff" stroke-opacity="0.5" stroke-width="1.6"/>
<path d="M225.7 1289.9V1740.6H901" stroke="#000" stroke-width="5" fill="none" stroke-linejoin="miter"/>
<path d="M205.8 1292.4H225.7M205.8 1441.8H225.7M205.8 1591.2H225.7M205.8 1740.6H225.7" stroke="#000" stroke-width="4.5" fill="none"/>
<path d="M272.8 1740.6V1760.3M344.52 1740.6V1760.3M416.24 1740.6V1760.3M487.96 1740.6V1760.3M559.68 1740.6V1760.3M631.4 1740.6V1760.3M703.12 1740.6V1760.3M774.84 1740.6V1760.3M846.56 1740.6V1760.3" stroke="#000" stroke-width="4" fill="none"/>
<text class="e" transform="translate(200.8 1303.88) scale(1 1.04)" font-size="32" letter-spacing="1.4">3</text>
<text class="e" transform="translate(200.8 1453.28) scale(1 1.04)" font-size="32" letter-spacing="1.4">2</text>
<text class="e" transform="translate(200.8 1602.68) scale(1 1.04)" font-size="32" letter-spacing="1.4">1</text>
<text class="e" transform="translate(200.8 1752.08) scale(1 1.04)" font-size="32" letter-spacing="1.4">0</text>
<text transform="translate(273 1794) scale(1 1.04)" font-size="32" letter-spacing="1.4">C</text>
<text transform="translate(343.42 1794) scale(1 1.04)" font-size="32" letter-spacing="1.4">C+UV</text>
<text transform="translate(416.44 1794) scale(1 1.04)" font-size="32" letter-spacing="1.4">C2</text>
<text transform="translate(488.16 1794) scale(1 1.04)" font-size="32" letter-spacing="1.4">1a</text>
<text transform="translate(559.88 1794) scale(1 1.04)" font-size="32" letter-spacing="1.4">2a</text>
<text transform="translate(631.6 1794) scale(1 1.04)" font-size="32" letter-spacing="1.4">3a</text>
<text transform="translate(703.32 1794) scale(1 1.04)" font-size="32" letter-spacing="1.4">1b</text>
<text transform="translate(775.04 1794) scale(1 1.04)" font-size="32" letter-spacing="1.4">2b</text>
<text transform="translate(846.76 1794) scale(1 1.04)" font-size="32" letter-spacing="1.4">3b</text>
<text transform="translate(117.8 1505.7) rotate(-90) scale(1 1.04)" font-size="37">PCNA</text>
<text class="n" transform="translate(164.9 1518.5) rotate(-90)" font-size="34" textLength="476" lengthAdjust="spacing" stroke="#000" stroke-width="0.6" stroke-linejoin="round">(normalized expression value)</text>
</g>
<g>
<path d="M302.6 2179.4V2168.3" stroke="#2a2a2a" stroke-width="2.5" fill="none"/><path d="M290.6 2168.3H314.6" stroke="#6c6c6c" stroke-width="3.3" fill="none"/>
<rect x="278.5" y="2177.4" width="48.2" height="305.5" fill="#000"/>
<path d="M374.38 2118.2V2105.8" stroke="#2a2a2a" stroke-width="2.5" fill="none"/><path d="M362.38 2105.8H386.38" stroke="#6c6c6c" stroke-width="3.3" fill="none"/>
<rect x="354.08" y="2119" width="40.6" height="363.9" fill="#a3a1a7" stroke="#000" stroke-width="5.6"/>
<path d="M357.68 2480.4V2122.6H391.08V2480.4" fill="none" stroke="#fff" stroke-opacity="0.5" stroke-width="1.6"/>
<text class="n" transform="translate(374.38 2109.06)" font-size="49" stroke="#000" stroke-width="0.8" stroke-linejoin="round">*</text>
<path d="M446.16 2182V2173.3" stroke="#2a2a2a" stroke-width="2.5" fill="none"/><path d="M434.16 2173.3H458.16" stroke="#6c6c6c" stroke-width="3.3" fill="none"/>
<rect x="424.86" y="2182.8" width="42.6" height="300.1" fill="#848484" stroke="#000" stroke-width="5.6"/>
<path d="M428.46 2480.4V2186.4H463.86V2480.4" fill="none" stroke="#fff" stroke-opacity="0.5" stroke-width="1.6"/>
<path d="M517.94 2173V2162" stroke="#2a2a2a" stroke-width="2.5" fill="none"/><path d="M505.94 2162H529.94" stroke="#6c6c6c" stroke-width="3.3" fill="none"/>
<rect x="496.64" y="2173.8" width="42.6" height="309.1" fill="#d4d4d4" stroke="#000" stroke-width="5.6"/>
<path d="M500.24 2480.4V2177.4H535.64V2480.4" fill="none" stroke="#fff" stroke-opacity="0.5" stroke-width="1.6"/>
<path d="M589.72 2187.5V2181.8" stroke="#2a2a2a" stroke-width="2.5" fill="none"/><path d="M577.72 2181.8H601.72" stroke="#6c6c6c" stroke-width="3.3" fill="none"/>
<rect x="568.42" y="2188.3" width="42.6" height="294.6" fill="#666666" stroke="#000" stroke-width="5.6"/>
<path d="M572.02 2480.4V2191.9H607.42V2480.4" fill="none" stroke="#fff" stroke-opacity="0.5" stroke-width="1.6"/>
<path d="M661.5 2195.2V2192" stroke="#2a2a2a" stroke-width="2.5" fill="none"/><path d="M649.5 2192H673.5" stroke="#6c6c6c" stroke-width="3.3" fill="none"/>
<rect x="640.2" y="2196" width="42.6" height="286.9" fill="#a3a1a7" stroke="#000" stroke-width="5.6"/>
<path d="M643.8 2480.4V2199.6H679.2V2480.4" fill="none" stroke="#fff" stroke-opacity="0.5" stroke-width="1.6"/>
<path d="M733.28 2213.7V2210.3" stroke="#2a2a2a" stroke-width="2.5" fill="none"/><path d="M721.28 2210.3H745.28" stroke="#6c6c6c" stroke-width="3.3" fill="none"/>
<rect x="711.98" y="2214.5" width="42.6" height="268.4" fill="#666666" stroke="#000" stroke-width="5.6"/>
<path d="M715.58 2480.4V2218.1H750.98V2480.4" fill="none" stroke="#fff" stroke-opacity="0.5" stroke-width="1.6"/>
<path d="M805.06 2238.2V2231.9" stroke="#2a2a2a" stroke-width="2.5" fill="none"/><path d="M793.06 2231.9H817.06" stroke="#6c6c6c" stroke-width="3.3" fill="none"/>
<rect x="783.76" y="2239" width="42.6" height="243.9" fill="#e7e7e7" stroke="#000" stroke-width="5.6"/>
<path d="M787.36 2480.4V2242.6H822.76V2480.4" fill="none" stroke="#fff" stroke-opacity="0.5" stroke-width="1.6"/>
<text class="n" transform="translate(805.06 2233.46)" font-size="49" stroke="#000" stroke-width="0.8" stroke-linejoin="round">*</text>
<path d="M876.84 2266.4V2256" stroke="#2a2a2a" stroke-width="2.5" fill="none"/><path d="M864.84 2256H888.84" stroke="#6c6c6c" stroke-width="3.3" fill="none"/>
<rect x="855.54" y="2267.2" width="42.6" height="215.7" fill="#a3a1a7" stroke="#000" stroke-width="5.6"/>
<path d="M859.14 2480.4V2270.8H894.54V2480.4" fill="none" stroke="#fff" stroke-opacity="0.5" stroke-width="1.6"/>
<text class="n" transform="translate(880.64 2259.46)" font-size="49" letter-spacing="5.2" stroke="#000" stroke-width="0.8" stroke-linejoin="round">**</text>
<path d="M254.6 2032.1V2482.9H931.2" stroke="#000" stroke-width="5" fill="none" stroke-linejoin="miter"/>
<path d="M235.6 2034.6H254.6M235.6 2184H254.6M235.6 2333.5H254.6M235.6 2482.9H254.6" stroke="#000" stroke-width="4.5" fill="none"/>
<path d="M302.6 2482.9V2502.3M374.38 2482.9V2502.3M446.16 2482.9V2502.3M517.94 2482.9V2502.3M589.72 2482.9V2502.3M661.5 2482.9V2502.3M733.28 2482.9V2502.3M805.06 2482.9V2502.3M876.84 2482.9V2502.3" stroke="#000" stroke-width="4" fill="none"/>
<text class="e" transform="translate(230.6 2046.08) scale(1 1.04)" font-size="32" letter-spacing="1.4">1.5</text>
<text class="e" transform="translate(230.6 2195.48) scale(1 1.04)" font-size="32" letter-spacing="1.4">1.0</text>
<text class="e" transform="translate(230.6 2344.98) scale(1 1.04)" font-size="32" letter-spacing="1.4">0.5</text>
<text class="e" transform="translate(230.6 2494.38) scale(1 1.04)" font-size="32" letter-spacing="1.4">0.0</text>
<text transform="translate(300.9 2534) scale(1 1.04)" font-size="32" letter-spacing="1.4">C</text>
<text transform="translate(371.38 2534) scale(1 1.04)" font-size="32" letter-spacing="1.4">C+UV</text>
<text transform="translate(444.46 2534) scale(1 1.04)" font-size="32" letter-spacing="1.4">C2</text>
<text transform="translate(516.24 2534) scale(1 1.04)" font-size="32" letter-spacing="1.4">1a</text>
<text transform="translate(588.02 2534) scale(1 1.04)" font-size="32" letter-spacing="1.4">2a</text>
<text transform="translate(659.8 2534) scale(1 1.04)" font-size="32" letter-spacing="1.4">3a</text>
<text transform="translate(731.58 2534) scale(1 1.04)" font-size="32" letter-spacing="1.4">1b</text>
<text transform="translate(803.36 2534) scale(1 1.04)" font-size="32" letter-spacing="1.4">2b</text>
<text transform="translate(875.14 2534) scale(1 1.04)" font-size="32" letter-spacing="1.4">3b</text>
<text transform="translate(127 2236.6) rotate(-90) scale(1 1.04)" font-size="37">Bax</text>
<text class="n" transform="translate(164.6 2262.3) rotate(-90)" font-size="34" textLength="476" lengthAdjust="spacing" stroke="#000" stroke-width="0.6" stroke-linejoin="round">(normalized expression value)</text>
</g>
<g>
<path d="M304.6 3038.7V3017.2" stroke="#2a2a2a" stroke-width="2.5" fill="none"/><path d="M292.6 3017.2H316.6" stroke="#6c6c6c" stroke-width="3.3" fill="none"/>
<rect x="280.5" y="3036.7" width="48.2" height="210" fill="#000"/>
<rect x="356.06" y="3196.8" width="40.6" height="49.9" fill="#a3a1a7" stroke="#000" stroke-width="5.6"/>
<path d="M359.66 3244.2V3200.4H393.06V3244.2" fill="none" stroke="#fff" stroke-opacity="0.5" stroke-width="1.6"/>
<text class="n" transform="translate(376.36 3202.96)" font-size="49" stroke="#000" stroke-width="0.8" stroke-linejoin="round">*</text>
<path d="M448.12 3042.8V3015.2" stroke="#2a2a2a" stroke-width="2.5" fill="none"/><path d="M436.12 3015.2H460.12" stroke="#6c6c6c" stroke-width="3.3" fill="none"/>
<rect x="426.82" y="3043.6" width="42.6" height="203.1" fill="#848484" stroke="#000" stroke-width="5.6"/>
<path d="M430.42 3244.2V3047.2H465.82V3244.2" fill="none" stroke="#fff" stroke-opacity="0.5" stroke-width="1.6"/>
<path d="M519.88 2919.6V2915" stroke="#2a2a2a" stroke-width="2.5" fill="none"/><path d="M507.88 2915H531.88" stroke="#6c6c6c" stroke-width="3.3" fill="none"/>
<rect x="498.58" y="2920.4" width="42.6" height="326.3" fill="#d4d4d4" stroke="#000" stroke-width="5.6"/>
<path d="M502.18 3244.2V2924H537.58V3244.2" fill="none" stroke="#fff" stroke-opacity="0.5" stroke-width="1.6"/>
<path d="M591.64 3028.3V3013.2" stroke="#2a2a2a" stroke-width="2.5" fill="none"/><path d="M579.64 3013.2H603.64" stroke="#6c6c6c" stroke-width="3.3" fill="none"/>
<rect x="570.34" y="3029.1" width="42.6" height="217.6" fill="#666666" stroke="#000" stroke-width="5.6"/>
<path d="M573.94 3244.2V3032.7H609.34V3244.2" fill="none" stroke="#fff" stroke-opacity="0.5" stroke-width="1.6"/>
<path d="M663.4 3043V3028.7" stroke="#2a2a2a" stroke-width="2.5" fill="none"/><path d="M651.4 3028.7H675.4" stroke="#6c6c6c" stroke-width="3.3" fill="none"/>
<rect x="642.1" y="3043.8" width="42.6" height="202.9" fill="#a3a1a7" stroke="#000" stroke-width="5.6"/>
<path d="M645.7 3244.2V3047.4H681.1V3244.2" fill="none" stroke="#fff" stroke-opacity="0.5" stroke-width="1.6"/>
<path d="M735.16 3003.8V2980" stroke="#2a2a2a" stroke-width="2.5" fill="none"/><path d="M723.16 2980H747.16" stroke="#6c6c6c" stroke-width="3.3" fill="none"/>
<rect x="713.86" y="3004.6" width="42.6" height="242.1" fill="#666666" stroke="#000" stroke-width="5.6"/>
<path d="M717.46 3244.2V3008.2H752.86V3244.2" fill="none" stroke="#fff" stroke-opacity="0.5" stroke-width="1.6"/>
<path d="M806.92 3058.2V3031.3" stroke="#2a2a2a" stroke-width="2.5" fill="none"/><path d="M794.92 3031.3H818.92" stroke="#6c6c6c" stroke-width="3.3" fill="none"/>
<rect x="785.62" y="3059" width="42.6" height="187.7" fill="#e7e7e7" stroke="#000" stroke-width="5.6"/>
<path d="M789.22 3244.2V3062.6H824.62V3244.2" fill="none" stroke="#fff" stroke-opacity="0.5" stroke-width="1.6"/>
<path d="M878.68 3052.5V3033.7" stroke="#2a2a2a" stroke-width="2.5" fill="none"/><path d="M866.68 3033.7H890.68" stroke="#6c6c6c" stroke-width="3.3" fill="none"/>
<rect x="857.38" y="3053.3" width="42.6" height="193.4" fill="#a3a1a7" stroke="#000" stroke-width="5.6"/>
<path d="M860.98 3244.2V3056.9H896.38V3244.2" fill="none" stroke="#fff" stroke-opacity="0.5" stroke-width="1.6"/>
<path d="M256.8 2794.6V3246.7H932.9" stroke="#000" stroke-width="5" fill="none" stroke-linejoin="miter"/>
<path d="M237.7 2797.1H256.8M237.7 2909.5H256.8M237.7 3021.9H256.8M237.7 3134.3H256.8M237.7 3246.7H256.8" stroke="#000" stroke-width="4.5" fill="none"/>
<path d="M304.6 3246.7V3266M376.36 3246.7V3266M448.12 3246.7V3266M519.88 3246.7V3266M591.64 3246.7V3266M663.4 3246.7V3266M735.16 3246.7V3266M806.92 3246.7V3266M878.68 3246.7V3266" stroke="#000" stroke-width="4" fill="none"/>
<text class="e" transform="translate(232.7 2808.58) scale(1 1.04)" font-size="32" letter-spacing="1.4">2.0</text>
<text class="e" transform="translate(232.7 2920.98) scale(1 1.04)" font-size="32" letter-spacing="1.4">1.5</text>
<text class="e" transform="translate(232.7 3033.38) scale(1 1.04)" font-size="32" letter-spacing="1.4">1.0</text>
<text class="e" transform="translate(232.7 3145.78) scale(1 1.04)" font-size="32" letter-spacing="1.4">0.5</text>
<text class="e" transform="translate(232.7 3258.18) scale(1 1.04)" font-size="32" letter-spacing="1.4">0.0</text>
<text transform="translate(303.1 3297.8) scale(1 1.04)" font-size="32" letter-spacing="1.4">C</text>
<text transform="translate(373.56 3297.8) scale(1 1.04)" font-size="32" letter-spacing="1.4">C+UV</text>
<text transform="translate(446.62 3297.8) scale(1 1.04)" font-size="32" letter-spacing="1.4">C2</text>
<text transform="translate(518.38 3297.8) scale(1 1.04)" font-size="32" letter-spacing="1.4">1a</text>
<text transform="translate(590.14 3297.8) scale(1 1.04)" font-size="32" letter-spacing="1.4">2a</text>
<text transform="translate(661.9 3297.8) scale(1 1.04)" font-size="32" letter-spacing="1.4">3a</text>
<text transform="translate(733.66 3297.8) scale(1 1.04)" font-size="32" letter-spacing="1.4">1b</text>
<text transform="translate(805.42 3297.8) scale(1 1.04)" font-size="32" letter-spacing="1.4">2b</text>
<text transform="translate(877.18 3297.8) scale(1 1.04)" font-size="32" letter-spacing="1.4">3b</text>
<text transform="translate(135.3 2998.9) rotate(-90) scale(1 1.04)" font-size="37">Bcl2</text>
<text class="n" transform="translate(170.2 3025.8) rotate(-90)" font-size="34" textLength="476" lengthAdjust="spacing" stroke="#000" stroke-width="0.6" stroke-linejoin="round">(normalized expression value)</text>
</g>
<g>
<rect x="1247.2" y="940.5" width="52" height="120.9" fill="#000"/>
<path d="M1350 700.9V673.7" stroke="#2a2a2a" stroke-width="2.5" fill="none"/><path d="M1337.5 673.7H1362.5" stroke="#6c6c6c" stroke-width="3.3" fill="none"/>
<rect x="1327.9" y="701.8" width="44.2" height="359.6" fill="#a3a1a7" stroke="#000" stroke-width="5.8"/>
<rect x="1325" y="698.9" width="50" height="7.4" fill="#000"/>
<text class="n" transform="translate(1350 672.36)" font-size="49" stroke="#000" stroke-width="0.5" stroke-linejoin="round">*</text>
<path d="M1426.8 1022.1V1019" stroke="#2a2a2a" stroke-width="2.5" fill="none"/><path d="M1414.3 1019H1439.3" stroke="#6c6c6c" stroke-width="3.3" fill="none"/>
<rect x="1403.7" y="1023" width="46.2" height="38.4" fill="#d4d4d4" stroke="#000" stroke-width="5.8"/>
<rect x="1400.8" y="1020.1" width="52" height="7.4" fill="#000"/>
<path d="M1503.6 1010.3V1007.3" stroke="#2a2a2a" stroke-width="2.5" fill="none"/><path d="M1491.1 1007.3H1516.1" stroke="#6c6c6c" stroke-width="3.3" fill="none"/>
<rect x="1480.5" y="1011.2" width="46.2" height="50.2" fill="#666666" stroke="#000" stroke-width="5.8"/>
<rect x="1477.6" y="1008.3" width="52" height="7.4" fill="#000"/>
<path d="M1580.4 1008.7V1006" stroke="#2a2a2a" stroke-width="2.5" fill="none"/><path d="M1567.9 1006H1592.9" stroke="#6c6c6c" stroke-width="3.3" fill="none"/>
<rect x="1557.3" y="1009.6" width="46.2" height="51.8" fill="#a3a1a7" stroke="#000" stroke-width="5.8"/>
<rect x="1554.4" y="1006.7" width="52" height="7.4" fill="#000"/>
<path d="M1657.2 1022.8V1017.7" stroke="#2a2a2a" stroke-width="2.5" fill="none"/><path d="M1644.7 1017.7H1669.7" stroke="#6c6c6c" stroke-width="3.3" fill="none"/>
<rect x="1634.1" y="1023.7" width="46.2" height="37.7" fill="#666666" stroke="#000" stroke-width="5.8"/>
<rect x="1631.2" y="1020.8" width="52" height="7.4" fill="#000"/>
<path d="M1734 1004.6V998.9" stroke="#2a2a2a" stroke-width="2.5" fill="none"/><path d="M1721.5 998.9H1746.5" stroke="#6c6c6c" stroke-width="3.3" fill="none"/>
<rect x="1710.9" y="1005.5" width="46.2" height="55.9" fill="#e7e7e7" stroke="#000" stroke-width="5.8"/>
<rect x="1708" y="1002.6" width="52" height="7.4" fill="#000"/>
<path d="M1810.8 1006.3V998.3" stroke="#2a2a2a" stroke-width="2.5" fill="none"/><path d="M1798.3 998.3H1823.3" stroke="#6c6c6c" stroke-width="3.3" fill="none"/>
<rect x="1787.7" y="1007.2" width="46.2" height="54.2" fill="#a3a1a7" stroke="#000" stroke-width="5.8"/>
<rect x="1784.8" y="1004.3" width="52" height="7.4" fill="#000"/>
<rect x="1864.5" y="944" width="46.2" height="117.4" fill="#848484" stroke="#000" stroke-width="5.8"/>
<rect x="1861.6" y="941.1" width="52" height="7.4" fill="#000"/>
<path d="M1222 578.7V1061.4H1945.9" stroke="#000" stroke-width="6" fill="none" stroke-linejoin="miter"/>
<path d="M1202.8 581.7H1222M1202.8 701.6H1222M1202.8 821.6H1222M1202.8 941.5H1222M1202.8 1061.4H1222" stroke="#000" stroke-width="5.5" fill="none"/>
<path d="M1273.2 1061.4V1081.8M1350 1061.4V1081.8M1426.8 1061.4V1081.8M1503.6 1061.4V1081.8M1580.4 1061.4V1081.8M1657.2 1061.4V1081.8M1734 1061.4V1081.8M1810.8 1061.4V1081.8M1887.6 1061.4V1081.8" stroke="#000" stroke-width="4.4" fill="none"/>
<text class="e" transform="translate(1196 594.26) scale(1 1.04)" font-size="35" letter-spacing="0">4</text>
<text class="e" transform="translate(1196 714.16) scale(1 1.04)" font-size="35" letter-spacing="0">3</text>
<text class="e" transform="translate(1196 834.16) scale(1 1.04)" font-size="35" letter-spacing="0">2</text>
<text class="e" transform="translate(1196 954.06) scale(1 1.04)" font-size="35" letter-spacing="0">1</text>
<text class="e" transform="translate(1196 1073.96) scale(1 1.04)" font-size="35" letter-spacing="0">0</text>
<text transform="translate(1272.5 1118.6) scale(1 1.04)" font-size="35" letter-spacing="0">C</text>
<text transform="translate(1348 1118.6) scale(1 1.04)" font-size="35" letter-spacing="0">C+UV</text>
<text transform="translate(1426.1 1118.6) scale(1 1.04)" font-size="35" letter-spacing="0">1a</text>
<text transform="translate(1502.9 1118.6) scale(1 1.04)" font-size="35" letter-spacing="0">2a</text>
<text transform="translate(1579.7 1118.6) scale(1 1.04)" font-size="35" letter-spacing="0">3a</text>
<text transform="translate(1656.5 1118.6) scale(1 1.04)" font-size="35" letter-spacing="0">1b</text>
<text transform="translate(1733.3 1118.6) scale(1 1.04)" font-size="35" letter-spacing="0">2b</text>
<text transform="translate(1810.1 1118.6) scale(1 1.04)" font-size="35" letter-spacing="0">3b</text>
<text transform="translate(1886.9 1118.6) scale(1 1.04)" font-size="35" letter-spacing="0">C2</text>
<text transform="translate(1102.2 820.9) rotate(-90) scale(1 1.04)" font-size="39.5">pH2AX</text>
<text transform="translate(1149.4 813.8) rotate(-90) scale(1 1.04)" font-size="39.5" textLength="561.5" lengthAdjust="spacing">(normalized expression value)</text>
</g>
<g>
<path d="M1262.9 1506.1V1486.1" stroke="#2a2a2a" stroke-width="2.5" fill="none"/><path d="M1250.9 1486.1H1274.9" stroke="#6c6c6c" stroke-width="3.3" fill="none"/>
<rect x="1238.8" y="1504.1" width="48.2" height="238.9" fill="#000"/>
<path d="M1334.62 1377.9V1361.1" stroke="#2a2a2a" stroke-width="2.5" fill="none"/><path d="M1322.62 1361.1H1346.62" stroke="#6c6c6c" stroke-width="3.3" fill="none"/>
<rect x="1314.32" y="1378.7" width="40.6" height="364.3" fill="#a3a1a7" stroke="#000" stroke-width="5.6"/>
<path d="M1317.92 1740.5V1382.3H1351.32V1740.5" fill="none" stroke="#fff" stroke-opacity="0.5" stroke-width="1.6"/>
<text class="n" transform="translate(1334.62 1361.76)" font-size="49" stroke="#000" stroke-width="0.8" stroke-linejoin="round">*</text>
<path d="M1406.34 1525.1V1515.9" stroke="#2a2a2a" stroke-width="2.5" fill="none"/><path d="M1394.34 1515.9H1418.34" stroke="#6c6c6c" stroke-width="3.3" fill="none"/>
<rect x="1385.04" y="1525.9" width="42.6" height="217.1" fill="#848484" stroke="#000" stroke-width="5.6"/>
<path d="M1388.64 1740.5V1529.5H1424.04V1740.5" fill="none" stroke="#fff" stroke-opacity="0.5" stroke-width="1.6"/>
<rect x="1456.76" y="1621.9" width="42.6" height="121.1" fill="#d4d4d4" stroke="#000" stroke-width="5.6"/>
<path d="M1460.36 1740.5V1625.5H1495.76V1740.5" fill="none" stroke="#fff" stroke-opacity="0.5" stroke-width="1.6"/>
<text class="n" transform="translate(1478.06 1615.96)" font-size="49" stroke="#000" stroke-width="0.8" stroke-linejoin="round">*</text>
<path d="M1549.78 1587.6V1579.9" stroke="#2a2a2a" stroke-width="2.5" fill="none"/><path d="M1537.78 1579.9H1561.78" stroke="#6c6c6c" stroke-width="3.3" fill="none"/>
<rect x="1528.48" y="1588.4" width="42.6" height="154.6" fill="#666666" stroke="#000" stroke-width="5.6"/>
<path d="M1532.08 1740.5V1592H1567.48V1740.5" fill="none" stroke="#fff" stroke-opacity="0.5" stroke-width="1.6"/>
<text class="n" transform="translate(1549.78 1584.86)" font-size="49" stroke="#000" stroke-width="0.8" stroke-linejoin="round">*</text>
<path d="M1621.5 1649.8V1641" stroke="#2a2a2a" stroke-width="2.5" fill="none"/><path d="M1609.5 1641H1633.5" stroke="#6c6c6c" stroke-width="3.3" fill="none"/>
<rect x="1600.2" y="1650.6" width="42.6" height="92.4" fill="#a3a1a7" stroke="#000" stroke-width="5.6"/>
<path d="M1603.8 1740.5V1654.2H1639.2V1740.5" fill="none" stroke="#fff" stroke-opacity="0.5" stroke-width="1.6"/>
<text class="n" transform="translate(1625.3 1648.76)" font-size="49" letter-spacing="5.2" stroke="#000" stroke-width="0.8" stroke-linejoin="round">**</text>
<path d="M1693.22 1569.1V1556" stroke="#2a2a2a" stroke-width="2.5" fill="none"/><path d="M1681.22 1556H1705.22" stroke="#6c6c6c" stroke-width="3.3" fill="none"/>
<rect x="1671.92" y="1569.9" width="42.6" height="173.1" fill="#666666" stroke="#000" stroke-width="5.6"/>
<path d="M1675.52 1740.5V1573.5H1710.92V1740.5" fill="none" stroke="#fff" stroke-opacity="0.5" stroke-width="1.6"/>
<text class="n" transform="translate(1693.22 1564.06)" font-size="49" stroke="#000" stroke-width="0.8" stroke-linejoin="round">*</text>
<path d="M1764.94 1527.8V1492.5" stroke="#2a2a2a" stroke-width="2.5" fill="none"/><path d="M1752.94 1492.5H1776.94" stroke="#6c6c6c" stroke-width="3.3" fill="none"/>
<rect x="1743.64" y="1528.6" width="42.6" height="214.4" fill="#e7e7e7" stroke="#000" stroke-width="5.6"/>
<path d="M1747.24 1740.5V1532.2H1782.64V1740.5" fill="none" stroke="#fff" stroke-opacity="0.5" stroke-width="1.6"/>
<path d="M1836.66 1578.2V1557.7" stroke="#2a2a2a" stroke-width="2.5" fill="none"/><path d="M1824.66 1557.7H1848.66" stroke="#6c6c6c" stroke-width="3.3" fill="none"/>
<rect x="1815.36" y="1579" width="42.6" height="164" fill="#a3a1a7" stroke="#000" stroke-width="5.6"/>
<path d="M1818.96 1740.5V1582.6H1854.36V1740.5" fill="none" stroke="#fff" stroke-opacity="0.5" stroke-width="1.6"/>
<path d="M1215.1 1291.4V1743H1890.4" stroke="#000" stroke-width="5" fill="none" stroke-linejoin="miter"/>
<path d="M1196.6 1293.9H1215.1M1196.6 1406.2H1215.1M1196.6 1518.5H1215.1M1196.6 1630.7H1215.1M1196.6 1743H1215.1" stroke="#000" stroke-width="4.5" fill="none"/>
<path d="M1262.9 1743V1761.6M1334.62 1743V1761.6M1406.34 1743V1761.6M1478.06 1743V1761.6M1549.78 1743V1761.6M1621.5 1743V1761.6M1693.22 1743V1761.6M1764.94 1743V1761.6M1836.66 1743V1761.6" stroke="#000" stroke-width="4" fill="none"/>
<text class="e" transform="translate(1191.6 1305.38) scale(1 1.04)" font-size="32" letter-spacing="1.4">2.0</text>
<text class="e" transform="translate(1191.6 1417.68) scale(1 1.04)" font-size="32" letter-spacing="1.4">1.5</text>
<text class="e" transform="translate(1191.6 1529.98) scale(1 1.04)" font-size="32" letter-spacing="1.4">1.0</text>
<text class="e" transform="translate(1191.6 1642.18) scale(1 1.04)" font-size="32" letter-spacing="1.4">0.5</text>
<text class="e" transform="translate(1191.6 1754.48) scale(1 1.04)" font-size="32" letter-spacing="1.4">0.0</text>
<text transform="translate(1263.1 1795.5) scale(1 1.04)" font-size="32" letter-spacing="1.4">C</text>
<text transform="translate(1333.52 1795.5) scale(1 1.04)" font-size="32" letter-spacing="1.4">C+UV</text>
<text transform="translate(1406.54 1795.5) scale(1 1.04)" font-size="32" letter-spacing="1.4">C2</text>
<text transform="translate(1478.26 1795.5) scale(1 1.04)" font-size="32" letter-spacing="1.4">1a</text>
<text transform="translate(1549.98 1795.5) scale(1 1.04)" font-size="32" letter-spacing="1.4">2a</text>
<text transform="translate(1621.7 1795.5) scale(1 1.04)" font-size="32" letter-spacing="1.4">3a</text>
<text transform="translate(1693.42 1795.5) scale(1 1.04)" font-size="32" letter-spacing="1.4">1b</text>
<text transform="translate(1765.14 1795.5) scale(1 1.04)" font-size="32" letter-spacing="1.4">2b</text>
<text transform="translate(1836.86 1795.5) scale(1 1.04)" font-size="32" letter-spacing="1.4">3b</text>
<text transform="translate(1082.6 1505.1) rotate(-90) scale(1 1.04)" font-size="37">PCNA</text>
<text class="n" transform="translate(1128.4 1521.1) rotate(-90)" font-size="34" textLength="476" lengthAdjust="spacing" stroke="#000" stroke-width="0.6" stroke-linejoin="round">(normalized expression value)</text>
</g>
<g>
<path d="M1238.1 2364.6V2354.9" stroke="#2a2a2a" stroke-width="2.5" fill="none"/><path d="M1226.1 2354.9H1250.1" stroke="#6c6c6c" stroke-width="3.3" fill="none"/>
<rect x="1214" y="2362.6" width="48.2" height="118.3" fill="#000"/>
<path d="M1309.88 2355.9V2345.8" stroke="#2a2a2a" stroke-width="2.5" fill="none"/><path d="M1297.88 2345.8H1321.88" stroke="#6c6c6c" stroke-width="3.3" fill="none"/>
<rect x="1289.58" y="2356.7" width="40.6" height="124.2" fill="#a3a1a7" stroke="#000" stroke-width="5.6"/>
<path d="M1293.18 2478.4V2360.3H1326.58V2478.4" fill="none" stroke="#fff" stroke-opacity="0.5" stroke-width="1.6"/>
<rect x="1360.36" y="2371.1" width="42.6" height="109.8" fill="#848484" stroke="#000" stroke-width="5.6"/>
<path d="M1363.96 2478.4V2374.7H1399.36V2478.4" fill="none" stroke="#fff" stroke-opacity="0.5" stroke-width="1.6"/>
<path d="M1453.44 2314.7V2308.7" stroke="#2a2a2a" stroke-width="2.5" fill="none"/><path d="M1441.44 2308.7H1465.44" stroke="#6c6c6c" stroke-width="3.3" fill="none"/>
<rect x="1432.14" y="2315.5" width="42.6" height="165.4" fill="#d4d4d4" stroke="#000" stroke-width="5.6"/>
<path d="M1435.74 2478.4V2319.1H1471.14V2478.4" fill="none" stroke="#fff" stroke-opacity="0.5" stroke-width="1.6"/>
<text class="n" transform="translate(1453.44 2315.96)" font-size="49" stroke="#000" stroke-width="0.8" stroke-linejoin="round">*</text>
<path d="M1525.22 2256.7V2238.2" stroke="#2a2a2a" stroke-width="2.5" fill="none"/><path d="M1513.22 2238.2H1537.22" stroke="#6c6c6c" stroke-width="3.3" fill="none"/>
<rect x="1503.92" y="2257.5" width="42.6" height="223.4" fill="#666666" stroke="#000" stroke-width="5.6"/>
<path d="M1507.52 2478.4V2261.1H1542.92V2478.4" fill="none" stroke="#fff" stroke-opacity="0.5" stroke-width="1.6"/>
<path d="M1597 2243.3V2210" stroke="#2a2a2a" stroke-width="2.5" fill="none"/><path d="M1585 2210H1609" stroke="#6c6c6c" stroke-width="3.3" fill="none"/>
<rect x="1575.7" y="2244.1" width="42.6" height="236.8" fill="#a3a1a7" stroke="#000" stroke-width="5.6"/>
<path d="M1579.3 2478.4V2247.7H1614.7V2478.4" fill="none" stroke="#fff" stroke-opacity="0.5" stroke-width="1.6"/>
<path d="M1668.78 2282.6V2266.5" stroke="#2a2a2a" stroke-width="2.5" fill="none"/><path d="M1656.78 2266.5H1680.78" stroke="#6c6c6c" stroke-width="3.3" fill="none"/>
<rect x="1647.48" y="2283.4" width="42.6" height="197.5" fill="#666666" stroke="#000" stroke-width="5.6"/>
<path d="M1651.08 2478.4V2287H1686.48V2478.4" fill="none" stroke="#fff" stroke-opacity="0.5" stroke-width="1.6"/>
<rect x="1719.26" y="2160.1" width="42.6" height="320.8" fill="#e7e7e7" stroke="#000" stroke-width="5.6"/>
<path d="M1722.86 2478.4V2163.7H1758.26V2478.4" fill="none" stroke="#fff" stroke-opacity="0.5" stroke-width="1.6"/>
<text class="n" transform="translate(1744.36 2164.56)" font-size="49" letter-spacing="5.2" stroke="#000" stroke-width="0.8" stroke-linejoin="round">**</text>
<path d="M1812.34 2312.1V2299.1" stroke="#2a2a2a" stroke-width="2.5" fill="none"/><path d="M1800.34 2299.1H1824.34" stroke="#6c6c6c" stroke-width="3.3" fill="none"/>
<rect x="1791.04" y="2312.9" width="42.6" height="168" fill="#a3a1a7" stroke="#000" stroke-width="5.6"/>
<path d="M1794.64 2478.4V2316.5H1830.04V2478.4" fill="none" stroke="#fff" stroke-opacity="0.5" stroke-width="1.6"/>
<path d="M1191.1 2030.4V2480.9H1867.1" stroke="#000" stroke-width="5" fill="none" stroke-linejoin="miter"/>
<path d="M1171 2032.9H1191.1M1171 2144.9H1191.1M1171 2256.9H1191.1M1171 2368.9H1191.1M1171 2480.9H1191.1" stroke="#000" stroke-width="4.5" fill="none"/>
<path d="M1238.1 2480.9V2500.2M1309.88 2480.9V2500.2M1381.66 2480.9V2500.2M1453.44 2480.9V2500.2M1525.22 2480.9V2500.2M1597 2480.9V2500.2M1668.78 2480.9V2500.2M1740.56 2480.9V2500.2M1812.34 2480.9V2500.2" stroke="#000" stroke-width="4" fill="none"/>
<text class="e" transform="translate(1166 2044.38) scale(1 1.04)" font-size="32" letter-spacing="1.4">4</text>
<text class="e" transform="translate(1166 2156.38) scale(1 1.04)" font-size="32" letter-spacing="1.4">3</text>
<text class="e" transform="translate(1166 2268.38) scale(1 1.04)" font-size="32" letter-spacing="1.4">2</text>
<text class="e" transform="translate(1166 2380.38) scale(1 1.04)" font-size="32" letter-spacing="1.4">1</text>
<text class="e" transform="translate(1166 2492.38) scale(1 1.04)" font-size="32" letter-spacing="1.4">0</text>
<text transform="translate(1236.6 2533.2) scale(1 1.04)" font-size="32" letter-spacing="1.4">C</text>
<text transform="translate(1307.08 2533.2) scale(1 1.04)" font-size="32" letter-spacing="1.4">C+UV</text>
<text transform="translate(1380.16 2533.2) scale(1 1.04)" font-size="32" letter-spacing="1.4">C2</text>
<text transform="translate(1451.94 2533.2) scale(1 1.04)" font-size="32" letter-spacing="1.4">1a</text>
<text transform="translate(1523.72 2533.2) scale(1 1.04)" font-size="32" letter-spacing="1.4">2a</text>
<text transform="translate(1595.5 2533.2) scale(1 1.04)" font-size="32" letter-spacing="1.4">3a</text>
<text transform="translate(1667.28 2533.2) scale(1 1.04)" font-size="32" letter-spacing="1.4">1b</text>
<text transform="translate(1739.06 2533.2) scale(1 1.04)" font-size="32" letter-spacing="1.4">2b</text>
<text transform="translate(1810.84 2533.2) scale(1 1.04)" font-size="32" letter-spacing="1.4">3b</text>
<text transform="translate(1094.6 2236.4) rotate(-90) scale(1 1.04)" font-size="37">Bax</text>
<text class="n" transform="translate(1134.4 2259.4) rotate(-90)" font-size="34" textLength="476" lengthAdjust="spacing" stroke="#000" stroke-width="0.6" stroke-linejoin="round">(normalized expression value)</text>
</g>
<g>
<path d="M1258.4 2953V2948.7" stroke="#2a2a2a" stroke-width="2.5" fill="none"/><path d="M1246.4 2948.7H1270.4" stroke="#6c6c6c" stroke-width="3.3" fill="none"/>
<rect x="1234.3" y="2951" width="48.2" height="299.1" fill="#000"/>
<path d="M1330.16 3162.4V3124.8" stroke="#2a2a2a" stroke-width="2.5" fill="none"/><path d="M1318.16 3124.8H1342.16" stroke="#6c6c6c" stroke-width="3.3" fill="none"/>
<rect x="1309.86" y="3163.2" width="40.6" height="86.9" fill="#a3a1a7" stroke="#000" stroke-width="5.6"/>
<path d="M1313.46 3247.6V3166.8H1346.86V3247.6" fill="none" stroke="#fff" stroke-opacity="0.5" stroke-width="1.6"/>
<path d="M1401.92 2963.1V2947.7" stroke="#2a2a2a" stroke-width="2.5" fill="none"/><path d="M1389.92 2947.7H1413.92" stroke="#6c6c6c" stroke-width="3.3" fill="none"/>
<rect x="1380.62" y="2963.9" width="42.6" height="286.2" fill="#848484" stroke="#000" stroke-width="5.6"/>
<path d="M1384.22 3247.6V2967.5H1419.62V3247.6" fill="none" stroke="#fff" stroke-opacity="0.5" stroke-width="1.6"/>
<rect x="1452.38" y="3000.8" width="42.6" height="249.3" fill="#d4d4d4" stroke="#000" stroke-width="5.6"/>
<path d="M1455.98 3247.6V3004.4H1491.38V3247.6" fill="none" stroke="#fff" stroke-opacity="0.5" stroke-width="1.6"/>
<path d="M1545.44 3012.8V3004.5" stroke="#2a2a2a" stroke-width="2.5" fill="none"/><path d="M1533.44 3004.5H1557.44" stroke="#6c6c6c" stroke-width="3.3" fill="none"/>
<rect x="1524.14" y="3013.6" width="42.6" height="236.5" fill="#666666" stroke="#000" stroke-width="5.6"/>
<path d="M1527.74 3247.6V3017.2H1563.14V3247.6" fill="none" stroke="#fff" stroke-opacity="0.5" stroke-width="1.6"/>
<rect x="1595.9" y="2995.2" width="42.6" height="254.9" fill="#a3a1a7" stroke="#000" stroke-width="5.6"/>
<path d="M1599.5 3247.6V2998.8H1634.9V3247.6" fill="none" stroke="#fff" stroke-opacity="0.5" stroke-width="1.6"/>
<path d="M1688.96 2882.1V2841.8" stroke="#2a2a2a" stroke-width="2.5" fill="none"/><path d="M1676.96 2841.8H1700.96" stroke="#6c6c6c" stroke-width="3.3" fill="none"/>
<rect x="1667.66" y="2882.9" width="42.6" height="367.2" fill="#666666" stroke="#000" stroke-width="5.6"/>
<path d="M1671.26 3247.6V2886.5H1706.66V3247.6" fill="none" stroke="#fff" stroke-opacity="0.5" stroke-width="1.6"/>
<rect x="1739.42" y="3075.8" width="42.6" height="174.3" fill="#e7e7e7" stroke="#000" stroke-width="5.6"/>
<path d="M1743.02 3247.6V3079.4H1778.42V3247.6" fill="none" stroke="#fff" stroke-opacity="0.5" stroke-width="1.6"/>
<text class="n" transform="translate(1760.72 3083.06)" font-size="49" stroke="#000" stroke-width="0.8" stroke-linejoin="round">*</text>
<path d="M1832.48 2987V2957.4" stroke="#2a2a2a" stroke-width="2.5" fill="none"/><path d="M1820.48 2957.4H1844.48" stroke="#6c6c6c" stroke-width="3.3" fill="none"/>
<rect x="1811.18" y="2987.8" width="42.6" height="262.3" fill="#a3a1a7" stroke="#000" stroke-width="5.6"/>
<path d="M1814.78 3247.6V2991.4H1850.18V3247.6" fill="none" stroke="#fff" stroke-opacity="0.5" stroke-width="1.6"/>
<path d="M1210.3 2799.6V3250.1H1887.1" stroke="#000" stroke-width="5" fill="none" stroke-linejoin="miter"/>
<path d="M1191.8 2802.1H1210.3M1191.8 2951.4H1210.3M1191.8 3100.8H1210.3M1191.8 3250.1H1210.3" stroke="#000" stroke-width="4.5" fill="none"/>
<path d="M1258.4 3250.1V3269.6M1330.16 3250.1V3269.6M1401.92 3250.1V3269.6M1473.68 3250.1V3269.6M1545.44 3250.1V3269.6M1617.2 3250.1V3269.6M1688.96 3250.1V3269.6M1760.72 3250.1V3269.6M1832.48 3250.1V3269.6" stroke="#000" stroke-width="4" fill="none"/>
<text class="e" transform="translate(1186.8 2813.58) scale(1 1.04)" font-size="32" letter-spacing="1.4">1.5</text>
<text class="e" transform="translate(1186.8 2962.88) scale(1 1.04)" font-size="32" letter-spacing="1.4">1.0</text>
<text class="e" transform="translate(1186.8 3112.28) scale(1 1.04)" font-size="32" letter-spacing="1.4">0.5</text>
<text class="e" transform="translate(1186.8 3261.58) scale(1 1.04)" font-size="32" letter-spacing="1.4">0.0</text>
<text transform="translate(1256.9 3302.4) scale(1 1.04)" font-size="32" letter-spacing="1.4">C</text>
<text transform="translate(1327.36 3302.4) scale(1 1.04)" font-size="32" letter-spacing="1.4">C+UV</text>
<text transform="translate(1400.42 3302.4) scale(1 1.04)" font-size="32" letter-spacing="1.4">C2</text>
<text transform="translate(1472.18 3302.4) scale(1 1.04)" font-size="32" letter-spacing="1.4">1a</text>
<text transform="translate(1543.94 3302.4) scale(1 1.04)" font-size="32" letter-spacing="1.4">2a</text>
<text transform="translate(1615.7 3302.4) scale(1 1.04)" font-size="32" letter-spacing="1.4">3a</text>
<text transform="translate(1687.46 3302.4) scale(1 1.04)" font-size="32" letter-spacing="1.4">1b</text>
<text transform="translate(1759.22 3302.4) scale(1 1.04)" font-size="32" letter-spacing="1.4">2b</text>
<text transform="translate(1830.98 3302.4) scale(1 1.04)" font-size="32" letter-spacing="1.4">3b</text>
<text transform="translate(1089.9 3006.5) rotate(-90) scale(1 1.04)" font-size="37">Bcl2</text>
<text class="n" transform="translate(1128.3 3028.8) rotate(-90)" font-size="34" textLength="476" lengthAdjust="spacing" stroke="#000" stroke-width="0.6" stroke-linejoin="round">(normalized expression value)</text>
</g>
</svg>
</body></html>
